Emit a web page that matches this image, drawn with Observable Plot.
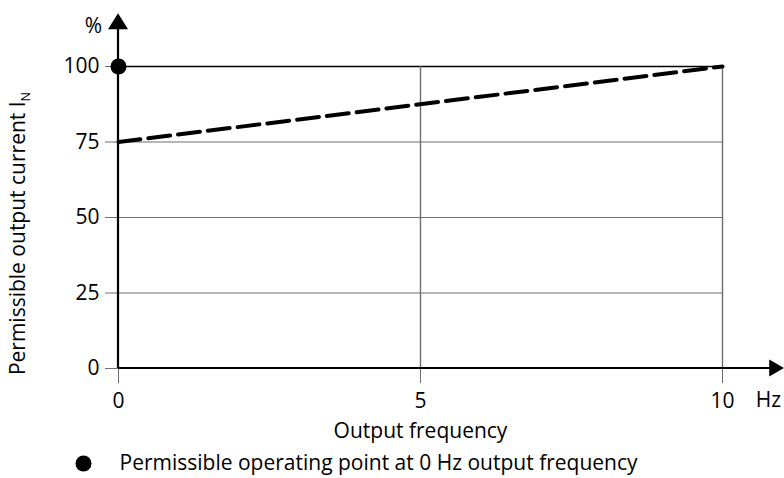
<!DOCTYPE html>
<html><head><meta charset="utf-8">
<script src="https://cdn.jsdelivr.net/npm/d3@7"></script>
<script src="https://cdn.jsdelivr.net/npm/@observablehq/plot@0.6"></script>
<style>body{margin:0;background:#fff} svg{display:block}</style>
</head><body><div id="chart"></div>
<script>
// Data
const freq = [0, 10];            // Hz
const current = [75, 100];       // % of I_N
const opFreq = [0];              // permissible operating point
const opCurrent = [100];
const xTicks = [0, 5, 10];
const yTicks = [0, 25, 50, 75, 100];
const xGrid = [5, 10];
const yGrid = [25, 50, 75];
const yTopLine = [100];
const xTitle = "Output frequency";
const yTitle = "Permissible output current IN";
const xUnit = "Hz";
const yUnit = "%";
const legendText = "Permissible operating point at 0 Hz output frequency";

const lineData = freq.map((f, i) => ({f, c: current[i]}));
const pointData = opFreq.map((f, i) => ({f, c: opCurrent[i]}));

const X_END = 11.03, Y_END = 117.5;
const FONT = 21;
const GRID = "#6e6e6e";

const arrows = (index, {x, y}) => {
  const g = d3.create("svg:g");
  g.append("line").attr("x1", x(0)).attr("x2", x(0)).attr("y1", y(0)).attr("y2", y(Y_END) + 10)
    .attr("stroke", "black").attr("stroke-width", 2.2);
  g.append("line").attr("x1", x(0)).attr("x2", x(X_END) - 10).attr("y1", y(0)).attr("y2", y(0))
    .attr("stroke", "black").attr("stroke-width", 2.2);
  g.append("path").attr("d", `M${x(0)},${y(Y_END)}l-10,16h20z`).attr("fill", "black");
  g.append("path").attr("d", `M${x(X_END)},${y(0)}l-15,-8.5v17z`).attr("fill", "black");
  return g.node();
};

const txt = {fontSize: FONT, textAnchor: "middle", lineAnchor: "middle", fill: "black"};

const plot = Plot.plot({
  width: 784,
  height: 478,
  marginLeft: 118,
  marginRight: 62,
  marginTop: 66,
  marginBottom: 110,
  style: {fontFamily: "'Open Sans', 'Noto Sans', sans-serif", fontSize: FONT + "px", color: "black", background: "white"},
  x: {domain: [0, 10], label: null},
  y: {domain: [0, 100], label: null},
  marks: [
    Plot.ruleY(yGrid, {x1: 0, x2: 10, stroke: GRID, strokeWidth: 1.2}),
    Plot.ruleY(yTopLine, {x1: 0, x2: 10, stroke: "#000", strokeWidth: 1.4}),
    Plot.ruleX(xGrid, {y1: 0, y2: 100, stroke: GRID, strokeWidth: 1.4}),
    Plot.axisY(yTicks, {tickSize: 13, tickPadding: 6, stroke: GRID, fill: "black", label: null, fontSize: FONT}),
    Plot.axisX(xTicks, {tickSize: 15, tickPadding: 10, stroke: GRID, fill: "black", label: null, fontSize: FONT}),
    arrows,
    Plot.line(lineData, {x: "f", y: "c", stroke: "black", strokeWidth: 4, strokeDasharray: "22,8"}),
    Plot.dot(pointData, {x: "f", y: "c", r: 8, fill: "black"}),
    Plot.text([yUnit], {...txt, frameAnchor: "top-left", dx: -25, dy: -40}),
    Plot.text([xUnit], {...txt, frameAnchor: "bottom-right", dx: 46, dy: 32}),
    Plot.text([xTitle], {...txt, frameAnchor: "bottom", dy: 63}),
    Plot.text([yTitle], {...txt, frameAnchor: "left", dx: -100, dy: 16, rotate: -90}),
    Plot.dot([legendText], {frameAnchor: "bottom-left", dx: -35, dy: 95, r: 8, fill: "black"}),
    Plot.text([legendText], {...txt, frameAnchor: "bottom-left", dx: 1, dy: 95, textAnchor: "start"})
  ]
});

// subscript N in y title
d3.select(plot).selectAll("text").each(function() {
  if (this.textContent === yTitle) {
    const t = d3.select(this);
    t.text(null);
    t.append("tspan").text(yTitle.slice(0, -1));
    t.append("tspan").attr("font-size", "0.6em").attr("dy", "0.35em").text(yTitle.slice(-1));
  }
});

document.getElementById("chart").append(plot);
</script>
</body></html>
